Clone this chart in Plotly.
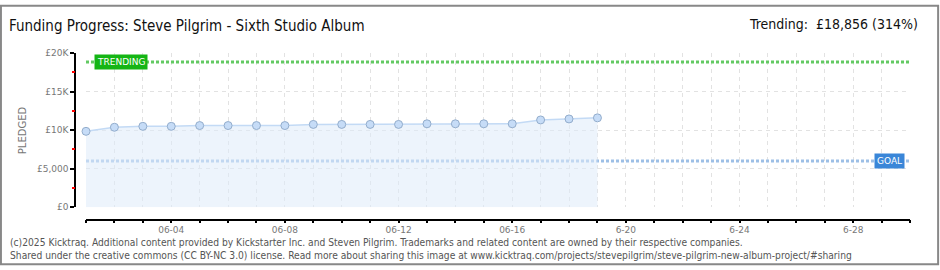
import plotly.graph_objects as go

# ---- data ----
dates = ["2025-06-%02d" % d for d in range(1, 20)]
pledged = [9850, 10380, 10500, 10500, 10600, 10600, 10600, 10600, 10750, 10750,
           10750, 10750, 10830, 10830, 10830, 10830, 11330, 11460, 11600]
goal = 6000
trending = 18856
x_start, x_end = "2025-06-01", "2025-06-30"
xtick_vals = ["2025-06-04", "2025-06-08", "2025-06-12", "2025-06-16", "2025-06-20", "2025-06-24", "2025-06-28"]
xtick_text = ["06-04", "06-08", "06-12", "06-16", "6-20", "6-24", "6-28"]
ytick_vals = [0, 5000, 10000, 15000, 20000]
ytick_text = ["£0", "£5,000", "£10K", "£15K", "£20K"]
yminor_vals = [2500, 7500, 12500, 17500]

W, H = 940, 270
def px(x): return x / W
def py(y): return (H - y) / H

DAY = 86400000

fig = go.Figure()

# goal & trending lines
fig.add_trace(go.Scatter(x=[x_start, x_end], y=[trending, trending], mode="lines",
                         line=dict(color="#62c962", width=3, dash="3px,2px"),
                         hoverinfo="skip", showlegend=False, cliponaxis=False))
fig.add_trace(go.Scatter(x=[x_start, x_end], y=[goal, goal], mode="lines",
                         line=dict(color="#9dbfe6", width=3, dash="3px,2px"),
                         hoverinfo="skip", showlegend=False, cliponaxis=False))

# pledged area
fig.add_trace(go.Scatter(x=dates, y=pledged, mode="lines+markers", fill="tozeroy",
                         fillcolor="rgba(222,235,250,0.55)",
                         line=dict(color="#c3daf5", width=1.5),
                         marker=dict(size=8, color="#c6dcf7", line=dict(color="#93adcc", width=1)),
                         showlegend=False, cliponaxis=False))

# invisible trace to activate the minor-tick axis
fig.add_trace(go.Scatter(x=[x_start], y=[0], yaxis="y2", mode="markers",
                         marker=dict(opacity=0), hoverinfo="skip", showlegend=False))

grid = dict(gridcolor="#e2e2e2", griddash="4px,4px", gridwidth=1)
tick_font = dict(size=9, color="#777", family="DejaVu Sans")

fig.update_layout(
    width=W, height=H, margin=dict(l=0, r=0, t=0, b=0),
    paper_bgcolor="white", plot_bgcolor="white",
    font=dict(family="DejaVu Sans Condensed", color="#666"),
    xaxis=dict(type="date", domain=[px(86), px(910)], range=[x_start, x_end],
               anchor="free", position=py(223),
               tickvals=xtick_vals, ticktext=xtick_text,
               ticks="outside", ticklen=3, tickcolor="black", tickwidth=1.5,
               ticklabelstandoff=-1,
               minor=dict(dtick=DAY, tick0=x_start, ticks="outside", ticklen=3,
                          tickcolor="black", tickwidth=1.5, showgrid=True, **grid),
               showline=True, linecolor="black", linewidth=1.5,
               showgrid=True, **grid,
               tickfont=tick_font, zeroline=False, fixedrange=True),
    yaxis=dict(domain=[py(210), py(50)], range=[0, 20000],
               anchor="free", position=px(75),
               tickvals=ytick_vals, ticktext=ytick_text,
               ticks="outside", ticklen=4, tickcolor="black", tickwidth=1.5,
               showline=True, linecolor="black", linewidth=1.5,
               showgrid=True, **grid,
               tickfont=tick_font, zeroline=False, fixedrange=True),
    yaxis2=dict(domain=[py(210), py(50)], range=[0, 20000], overlaying="y",
                anchor="free", position=px(75), side="left",
                tickvals=yminor_vals, ticks="outside", ticklen=3, tickcolor="red", tickwidth=1.5,
                showticklabels=False, showgrid=False, showline=False, zeroline=False,
                fixedrange=True),
    shapes=[dict(type="rect", xref="paper", yref="paper", x0=0.001, y0=0.003, x1=0.998, y1=0.997,
                 line=dict(color="#888", width=2), fillcolor="rgba(0,0,0,0)", layer="below")],
    annotations=[
        dict(text="Funding Progress: Steve Pilgrim - Sixth Studio Album", xref="paper", yref="paper",
             x=px(7), y=py(22), xanchor="left", yanchor="middle", showarrow=False,
             font=dict(size=15, color="#111", family="DejaVu Sans Condensed")),
        dict(text="Trending:  £18,856 (314%)", xref="paper", yref="paper",
             x=px(920), y=py(20), xanchor="right", yanchor="middle", showarrow=False,
             font=dict(size=14, color="#111", family="DejaVu Sans Condensed")),
        dict(text="PLEDGED", xref="paper", yref="paper", x=px(22), y=py(130),
             xanchor="center", yanchor="middle", showarrow=False, textangle=-90,
             font=dict(size=10, color="#777", family="DejaVu Sans")),
        dict(text="TRENDING", xref="paper", yref="y", x=px(94), y=trending,
             xanchor="left", yanchor="middle", showarrow=False, bgcolor="#15b515",
             borderpad=2, font=dict(size=9, color="white", family="DejaVu Sans")),
        dict(text="GOAL", xref="paper", yref="y", x=px(905), y=goal,
             xanchor="right", yanchor="middle", showarrow=False, bgcolor="#3a86d8",
             borderpad=2, font=dict(size=9, color="white", family="DejaVu Sans")),
        dict(text="(c)2025 Kicktraq. Additional content provided by Kickstarter Inc. and Steven Pilgrim. Trademarks and related content are owned by their respective companies.",
             xref="paper", yref="paper", x=px(8), y=py(247), xanchor="left", yanchor="middle",
             showarrow=False, font=dict(size=10.2, color="#555", family="DejaVu Sans Condensed")),
        dict(text="Shared under the creative commons (CC BY-NC 3.0) license. Read more about sharing this image at www.kicktraq.com/projects/stevepilgrim/steve-pilgrim-new-album-project/#sharing",
             xref="paper", yref="paper", x=px(8), y=py(260), xanchor="left", yanchor="middle",
             showarrow=False, font=dict(size=10.2, color="#555", family="DejaVu Sans Condensed")),
    ],
)

fig.write_html("out.html")
